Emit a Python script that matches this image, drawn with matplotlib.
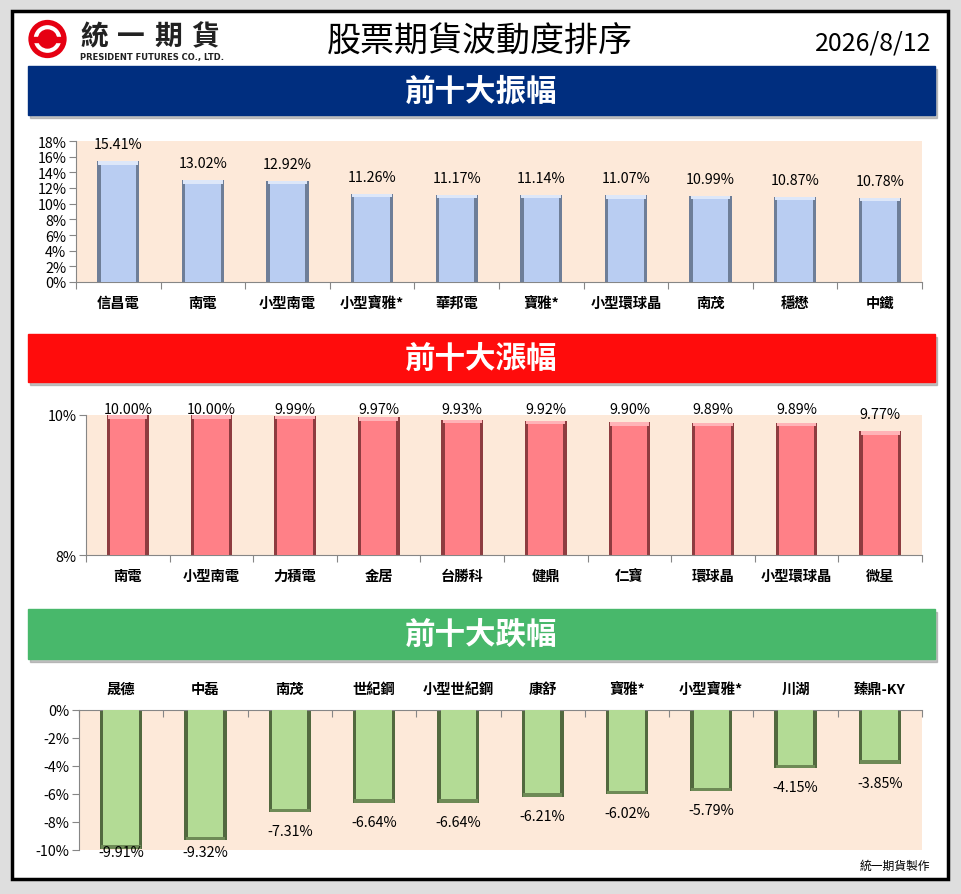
import matplotlib
matplotlib.use("Agg")
import matplotlib.pyplot as plt
from matplotlib.patches import Rectangle, Circle
import numpy as np

plt.rcParams['font.family'] = ['Noto Sans CJK TC', 'DejaVu Sans']

W, H = 962, 895

TITLE = "股票期貨波動度排序"
DATE = "2026/8/12"
LOGO = "統一期貨"

amp_names = ['信昌電', '南電', '小型南電', '小型寶雅*', '華邦電', '寶雅*', '小型環球晶', '南茂', '穩懋', '中鐵']
amp_vals = [15.41, 13.02, 12.92, 11.26, 11.17, 11.14, 11.07, 10.99, 10.87, 10.78]

up_names = ['南電', '小型南電', '力積電', '金居', '台勝科', '健鼎', '仁寶', '環球晶', '小型環球晶', '微星']
up_vals = [10.00, 10.00, 9.99, 9.97, 9.93, 9.92, 9.90, 9.89, 9.89, 9.77]

down_names = ['晟德', '中磊', '南茂', '世紀鋼', '小型世紀鋼', '康舒', '寶雅*', '小型寶雅*', '川湖', '臻鼎-KY']
down_vals = [-9.91, -9.32, -7.31, -6.64, -6.64, -6.21, -6.02, -5.79, -4.15, -3.85]

AXIS_GRAY = '#868686'
PEACH = '#FDE9D9'
FS = 10.3


def add_ax(fig, x0, y0, x1, y1):
    return fig.add_axes([x0 / W, 1 - y1 / H, (x1 - x0) / W, (y1 - y0) / H])


def header_bar(bg, y0, y1, color, text):
    # shadow then bar
    bg.add_patch(Rectangle((30, y0 + 3), 907, y1 - y0, color='#9a9a9a', alpha=0.6, zorder=1))
    bg.add_patch(Rectangle((28, y0), 907, y1 - y0, color=color, zorder=2))
    bg.text(481, (y0 + y1) / 2, text, color='white', fontsize=22, fontweight='bold',
            ha='center', va='center', zorder=3)


def bevel_bars(ax, vals, face, dark, rim, px_h):
    x = np.arange(len(vals))
    vals = np.array(vals)
    ax.bar(x, vals, width=0.5, color=dark, zorder=2)
    inset = 3.5 / px_h
    inner = vals - np.sign(vals) * inset
    ax.bar(x, inner, width=0.42, color=face, zorder=3)
    # light rim at the bar end
    ax.bar(x, np.sign(vals) * inset, bottom=inner, width=0.47, color=rim, zorder=3)


def style_axis(ax, names, top=False):
    ax.set_facecolor(PEACH)
    ax.set_xlim(-0.5, len(names) - 0.5)
    ax.set_xticks(np.arange(-0.5, len(names), 1.0))
    ax.set_xticklabels([])
    ax.set_xticks(np.arange(len(names)), minor=True)
    ax.set_xticklabels(names, minor=True, fontsize=FS, fontweight='bold')
    for s in ['top', 'right', 'bottom', 'left']:
        ax.spines[s].set_visible(False)
    ax.spines['left'].set_visible(True)
    ax.spines['left'].set_color(AXIS_GRAY)
    edge = 'top' if top else 'bottom'
    ax.spines[edge].set_visible(True)
    ax.spines[edge].set_color(AXIS_GRAY)
    ax.tick_params(axis='x', which='minor', length=0, pad=10)
    ax.tick_params(axis='x', which='major', length=5, color=AXIS_GRAY,
                   direction='in' if top else 'out')
    ax.tick_params(axis='y', length=5, color=AXIS_GRAY, labelsize=FS, pad=2)
    if top:
        ax.xaxis.tick_top()


fig = plt.figure(figsize=(W / 100, H / 100), dpi=100)
fig.patch.set_facecolor('#DEDEDE')

bg = fig.add_axes([0, 0, 1, 1])
bg.set_xlim(0, W)
bg.set_ylim(H, 0)
bg.axis('off')
bg.add_patch(Rectangle((12, 12), 936, 868, facecolor='white', edgecolor='black', lw=2.5, zorder=0))

# logo: red ring, band through the middle and a centre disc
bg.add_patch(Circle((47.5, 40), 16.5, facecolor='white', edgecolor='#E60012', lw=3.8, zorder=2))
bg.add_patch(Rectangle((31, 38), 33, 4.5, color='#E60012', zorder=3))
bg.add_patch(Circle((47.5, 40), 9, color='#E60012', zorder=3))
for i, ch in enumerate(LOGO):
    bg.text(80 + i * 37, 37, ch, fontsize=20, fontweight='bold', color='#222222',
            ha='left', va='center')
bg.text(80, 57, "PRESIDENT FUTURES CO., LTD.", fontsize=6, fontweight='bold', color='#222222',
        ha='left', va='center', family=['DejaVu Sans'])

bg.text(480, 42, TITLE, fontsize=24.5, color='black', ha='center', va='center')
bg.text(931, 43, DATE, fontsize=18, color='black', ha='right', va='center')

header_bar(bg, 67, 116, '#002E7F', "前十大振幅")
header_bar(bg, 335, 383, '#FF0C0C', "前十大漲幅")
header_bar(bg, 610, 660, '#48B86B', "前十大跌幅")

bg.text(930, 866, "統一期貨製作", fontsize=8.5, color='black', ha='right', va='center')

# panel 1: amplitude
ax1 = add_ax(fig, 76, 142, 922, 283)
ax1.set_ylim(0, 18)
bevel_bars(ax1, amp_vals, '#B9CDF2', '#6E7E98', '#DDE7F9', 141 / 18)
ax1.set_yticks(np.arange(0, 19, 2))
ax1.set_yticklabels([f"{v}%" for v in range(0, 19, 2)])
style_axis(ax1, amp_names)
for i, v in enumerate(amp_vals):
    ax1.text(i, v + 2.17, f"{v:.2f}%", ha='center', va='center', fontsize=FS)

# panel 2: gains
ax2 = add_ax(fig, 86, 416, 922, 556)
ax2.set_ylim(8, 10)
bevel_bars(ax2, up_vals, '#FF8087', '#8E3C40', '#FFB3B7', 140 / 2)
ax2.set_yticks([8, 10])
ax2.set_yticklabels(["8%", "10%"])
style_axis(ax2, up_names)
for i, v in enumerate(up_vals):
    ax2.text(i, min(v + 0.24, 10.086), f"{v:.2f}%", ha='center', va='center', fontsize=FS,
             clip_on=False)

# panel 3: losses
ax3 = add_ax(fig, 79, 711, 922, 851)
ax3.set_ylim(-10, 0)
bevel_bars(ax3, down_vals, '#B3DB95', '#52693F', '#6E8A56', 140 / 10)
ax3.set_yticks(np.arange(-10, 1, 2))
ax3.set_yticklabels([f"{v}%" for v in range(-10, 1, 2)])
style_axis(ax3, down_names, top=True)
for i, v in enumerate(down_vals):
    ax3.text(i, max(v - 1.36, -10.15), f"{v:.2f}%", ha='center', va='center', fontsize=FS,
             clip_on=False, zorder=5)

fig.savefig("out.png", dpi=100, facecolor=fig.get_facecolor())
